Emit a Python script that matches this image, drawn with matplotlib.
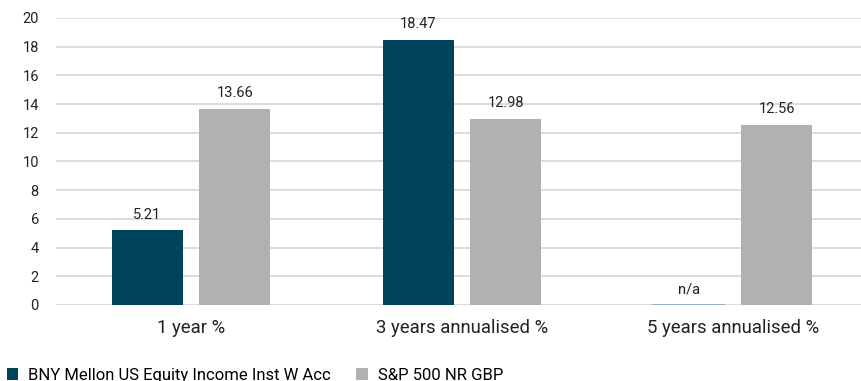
import matplotlib.pyplot as plt
import numpy as np

plt.rcParams['font.family'] = ['Roboto', 'DejaVu Sans']

categories = ['1 year %', '3 years annualised %', '5 years annualised %']
fund_name = 'BNY Mellon US Equity Income Inst W Acc'
bench_name = 'S&P 500 NR GBP'
fund = [5.21, 18.47, None]
bench = [13.66, 12.98, 12.56]
yticks = [0, 2, 4, 6, 8, 10, 12, 14, 16, 18, 20]

teal = '#00435a'
grey = '#b1b1b1'

fig = plt.figure(figsize=(8.61, 3.81), dpi=100)
ax = fig.add_axes([0.0645, 0.1995, 0.944, 0.7533])

x = np.arange(len(categories))
w = 0.262
off = 0.162

fund_h = [v if v is not None else 0 for v in fund]
ax.bar(x - off, fund_h, w, color=teal, label=fund_name, zorder=3)
ax.bar(x + off, bench, w, color=grey, label=bench_name, zorder=3)

for i, v in enumerate(fund):
    if v is None:
        ax.plot([x[i] - off - w / 2, x[i] - off + w / 2], [0, 0],
                color='#7fa6b8', lw=1.2, zorder=4)
        ax.text(x[i] - off, 0.6, 'n/a', ha='center', va='bottom', fontsize=10.5, color='#222222')
    else:
        ax.text(x[i] - off, v + 0.6, f'{v:.2f}', ha='center', va='bottom', fontsize=10.5, color='#222222')
for i, v in enumerate(bench):
    ax.text(x[i] + off, v + 0.6, f'{v:.2f}', ha='center', va='bottom', fontsize=10.5, color='#222222')

ax.set_xlim(-0.5, 2.5)
ax.set_ylim(0, 20)
ax.set_yticks(yticks)
ax.set_xticks(x)
ax.set_xticklabels(categories, fontsize=13.3, color='#222222')
ax.tick_params(axis='y', length=0, pad=12, labelsize=10.5, labelcolor='#222222')
ax.tick_params(axis='x', length=0, pad=10)
ax.grid(axis='y', color='#d9d9d9', lw=1.3, zorder=0)
for s in ax.spines.values():
    s.set_visible(False)

fig.legend(loc='center left', bbox_to_anchor=(0.0, 0.015), ncol=2, frameon=False,
           fontsize=12, handlelength=0.7, handleheight=0.7, handletextpad=0.6,
           columnspacing=1.5, borderaxespad=0)

fig.savefig('out.png', dpi=100)
